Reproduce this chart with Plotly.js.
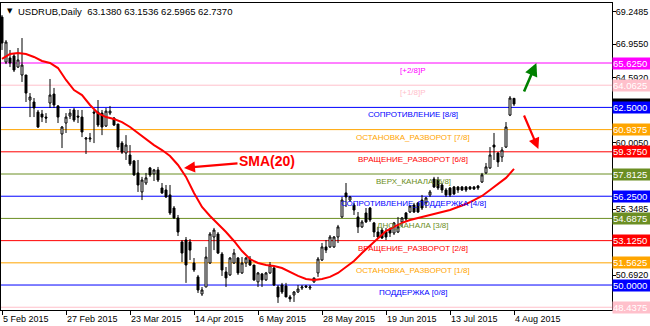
<!DOCTYPE html>
<html><head><meta charset="utf-8">
<script src="https://cdn.plot.ly/plotly-3.0.1.min.js"></script>
<style>html,body{margin:0;padding:0;background:#fff}#c{width:650px;height:326px}</style>
</head><body><div id="c"></div>
<script>
// Daily candles (bar index 0 = 5 Feb 2015)
const openP = [68.86,65.69,65.98,66.12,65.34,64.78,64.78,63.02,62.88,62.17,
62.03,61.82,62.81,63.44,62.60,60.63,61.40,61.89,62.32,61.89,
61.82,60.27,60.27,62.17,62.17,62.10,61.19,62.10,61.75,61.33,
59.99,59.29,59.15,58.73,57.89,56.55,57.18,58.24,57.82,58.10,
56.83,56.69,56.34,55.42,54.72,53.03,53.17,53.03,51.55,50.57,
49.37,49.86,51.55,53.38,53.59,52.18,50.92,50.71,51.55,51.90,
50.85,51.55,51.83,51.41,50.22,50.78,50.36,50.85,51.20,49.86,
50.00,49.93,49.16,49.30,49.51,49.79,49.93,49.79,50.22,50.85,
51.76,52.68,52.68,52.68,53.38,54.79,56.48,55.98,55.63,54.79,
54.09,55.07,55.42,54.37,53.73,53.87,53.73,53.95,53.66,53.73,
54.44,55.07,55.14,55.63,55.78,55.98,55.78,56.34,57.46,57.39,
57.04,56.69,56.83,56.90,56.90,56.90,56.90,56.90,56.90,56.97,
57.25,57.89,58.24,59.85,59.29,59.01,59.71,61.96,63.138];
const highP = [69.00,67.24,66.54,66.33,66.68,67.38,64.78,63.51,63.16,62.32,
62.32,62.10,64.50,63.87,62.67,61.19,62.10,62.39,62.46,62.32,
62.32,60.41,60.70,62.32,63.02,62.32,62.46,62.60,61.82,61.33,
60.13,60.55,59.85,58.80,58.80,57.61,57.89,58.31,58.17,58.31,
57.18,57.04,57.04,55.56,54.93,53.17,53.38,53.24,51.90,50.71,
49.86,52.68,53.73,54.02,53.73,52.32,51.27,51.97,52.54,51.97,
51.97,51.97,52.04,51.41,50.92,50.85,50.92,51.62,51.27,50.00,
50.15,50.15,49.30,49.58,50.00,50.00,50.00,50.00,50.50,51.97,
52.96,53.17,53.52,53.45,54.23,56.20,57.18,56.27,55.78,55.14,
54.58,55.42,55.49,54.44,54.09,54.02,54.02,54.02,54.44,54.79,
54.79,55.14,55.63,55.78,55.84,56.34,56.20,56.69,57.61,57.61,
57.18,56.83,56.90,56.97,56.97,56.97,56.97,56.97,56.97,57.04,
57.89,58.59,59.71,60.70,59.35,59.71,61.47,63.30,63.1536];
const lowP = [66.54,65.55,65.34,64.99,65.27,64.29,62.88,61.82,61.82,61.05,
61.47,61.40,62.46,62.46,61.40,59.64,60.70,61.68,61.47,61.40,
60.41,59.22,60.06,59.99,61.12,60.55,61.12,61.96,61.19,59.50,
59.22,58.80,58.38,57.68,56.55,55.98,57.04,57.61,57.32,57.25,
56.41,56.13,54.93,54.65,53.45,51.62,50.15,51.76,50.92,49.44,
49.23,49.86,51.48,52.46,52.18,50.64,49.86,50.64,51.48,50.71,
50.78,51.27,51.34,50.29,49.86,49.86,50.29,50.78,49.93,48.74,
49.37,49.16,48.81,48.81,49.44,49.65,49.79,49.65,50.15,50.57,
51.69,52.25,52.61,52.61,52.96,54.72,55.49,55.84,54.93,53.66,
54.02,54.37,54.44,53.38,53.31,53.24,53.17,53.38,53.52,53.66,
54.09,54.44,55.07,55.07,55.07,55.28,55.42,56.20,56.83,56.69,
56.48,56.20,56.20,56.34,56.48,56.62,56.55,56.69,56.69,56.69,
57.18,57.82,58.17,58.80,58.31,58.66,59.64,61.89,62.5965];
const closeP = [67.03,67.10,65.625,65.13,65.84,65.48,63.51,63.23,62.46,61.12,
61.82,61.75,63.37,62.67,61.82,61.12,61.82,62.10,61.61,61.82,
60.77,60.34,60.34,62.10,61.26,61.12,62.24,62.24,61.26,59.71,
59.35,59.85,58.52,57.75,57.04,57.39,57.54,57.75,58.10,57.39,
56.48,56.20,55.07,54.72,53.73,52.25,51.41,52.46,51.06,49.65,
49.65,51.97,53.59,53.87,52.25,51.06,50.50,51.90,52.25,50.85,
51.55,51.90,51.41,50.36,50.85,50.36,50.85,51.41,50.00,49.16,
49.51,49.16,49.02,49.51,49.72,49.86,49.86,49.86,50.50,51.83,
52.68,52.46,53.38,53.38,54.09,55.98,56.20,56.20,55.28,54.09,
54.44,54.44,54.58,53.73,53.38,53.31,53.38,53.66,54.37,54.09,
54.72,54.65,55.56,55.14,55.14,55.42,56.13,56.55,56.90,56.83,
56.69,56.34,56.34,56.41,56.69,56.69,56.69,56.76,56.76,56.83,
57.75,58.31,59.15,59.71,58.66,59.50,61.12,63.16,62.737];

// SMA(20) at every second bar
const smaIdx = [0,2,4,6,8,10,12,14,16,18,20,22,24,26,28,30,32,34,36,38,40,42,44,46,48,50,52,54,56,58,60,62,64,66,68,70,72,74,76,78,80,82,84,86,88,90,92,94,96,98,100,102,104,106,108,110,112,114,116,118,120,122,124,126,128];
const smaVal = [65.91,66.26,66.33,66.26,66.05,65.77,65.625,65.27,64.43,63.72,63.37,62.67,62.10,61.82,61.68,61.47,61.12,60.70,60.27,59.85,59.50,59.08,58.45,57.61,56.48,55.49,54.86,54.30,53.73,53.10,52.39,51.83,51.55,51.41,51.34,51.20,50.92,50.64,50.43,50.36,50.43,50.57,50.85,51.27,51.69,52.25,52.75,53.31,53.80,54.09,54.37,54.58,54.72,54.86,55.00,55.14,55.28,55.49,55.70,55.98,56.27,56.69,57.11,57.54,58.17];

// Murrey math levels
const levelVals = [65.625,64.0625,62.5,60.9375,59.375,57.8125,56.25,54.6875,53.125,51.5625,50.0,48.4375];
const levelNames = ['[+2/8]P','[+1/8]P','СОПРОТИВЛЕНИЕ [8/8]','ОСТАНОВКА_РАЗВОРОТ [7/8]','ВРАЩЕНИЕ_РАЗВОРОТ [6/8]','ВЕРХ_КАНАЛА [5/8]','СОПРОТИВЛЕНИЕ_ПОДДЕРЖКА [4/8]','ДНО_КАНАЛА [3/8]','ВРАЩЕНИЕ_РАЗВОРОТ [2/8]','ОСТАНОВКА_РАЗВОРОТ [1/8]','ПОДДЕРЖКА [0/8]',''];
const levelColors = ['#FF00FF','#FFC0CB','#0000FF','#FFA500','#FF0000','#6B8E23','#0000FF','#6B8E23','#FF0000','#FFA500','#0000FF','#FFC0CB'];

// Axis ticks
const priceTicks = [69.2485,66.9550,64.5920,60.0050,55.3485,50.6920];
const dateTickIdx = [0,16,32,48,64,80,96,112,128];
const dateTickText = ['5 Feb 2015','27 Feb 2015','23 Mar 2015','14 Apr 2015','6 May 2015','28 May 2015','19 Jun 2015','13 Jul 2015','4 Aug 2015'];

const titleText = 'USDRUB,Daily  ' + [openP, highP, lowP, closeP].map(a => a[a.length-1].toFixed(4)).join(' ');

const xIdx = openP.map((_, i) => i);
const FONT = 'Liberation Sans, Arial, sans-serif';

const traces = [
  {type:'candlestick', x:xIdx, open:openP, high:highP, low:lowP, close:closeP,
   increasing:{line:{color:'#000000', width:1}, fillcolor:'#FFFFFF'},
   decreasing:{line:{color:'#000000', width:1}, fillcolor:'#000000'},
   whiskerwidth:0, hoverinfo:'skip'},
  {type:'scatter', mode:'lines', x:smaIdx, y:smaVal, line:{color:'#FF0000', width:2}, hoverinfo:'skip'}
];

const shapes = levelVals.map((v, k) => ({type:'line', xref:'paper', x0:0, x1:1, yref:'y', y0:v, y1:v,
  line:{color:levelColors[k], width:1}, layer:'below'}));

const annotations = [];
levelVals.forEach((v, k) => {
  if (!levelNames[k]) return;
  annotations.push({xref:'paper', x:412/611, yref:'y', y:v, text:levelNames[k], showarrow:false,
    xanchor:'center', yanchor:'top', yshift:-1, font:{family:FONT, size:8, color:levelColors[k]}});
});
// current price box (mostly hidden)
annotations.push({xref:'paper', x:1, yref:'y', y:closeP[closeP.length-1], text:closeP[closeP.length-1].toFixed(4),
  showarrow:false, xanchor:'left', yanchor:'middle', bgcolor:'#000000', width:40, height:11, borderpad:0,
  align:'left', font:{family:FONT, size:9.5, color:'#FFFFFF'}});
levelVals.forEach((v, k) => {
  annotations.push({xref:'paper', x:1, yref:'y', y:v, text:v.toFixed(4), showarrow:false,
    xanchor:'left', yanchor:'middle', bgcolor:levelColors[k], width:40, height:11, borderpad:0,
    align:'left', font:{family:FONT, size:9.5, color:'#FFFFFF'}});
});
annotations.push({xref:'paper', yref:'paper', x:0, y:1, xanchor:'left', yanchor:'top', xshift:4, yshift:-2,
  text:'▼', showarrow:false, font:{family:'DejaVu Sans', size:7, color:'#000'}});
annotations.push({xref:'paper', yref:'paper', x:0, y:1, xanchor:'left', yanchor:'top', xshift:15, yshift:-1,
  text:titleText, showarrow:false, font:{family:FONT, size:9.5, color:'#000'}});
annotations.push({x:45.5, y:58.24, xref:'x', yref:'y', text:'<b>SMA(20)</b>', showarrow:true,
  ax:83, ay:-7, arrowhead:2, arrowsize:1, arrowwidth:2.2, arrowcolor:'#FF0000', standoff:0,
  font:{family:FONT, size:14, color:'#FF0000'}});
annotations.push({x:133.6, y:65.63, xref:'x', yref:'y', text:'', showarrow:true, ax:-13, ay:30,
  arrowhead:2, arrowsize:1, arrowwidth:2.6, arrowcolor:'#008000'});
annotations.push({x:134.1, y:59.57, xref:'x', yref:'y', text:'', showarrow:true, ax:-15, ay:-35,
  arrowhead:2, arrowsize:1, arrowwidth:2.2, arrowcolor:'#FF0000'});

const layout = {
  width:650, height:326, margin:{l:1, r:38, t:3, b:16},
  paper_bgcolor:'#FFFFFF', plot_bgcolor:'#FFFFFF', showlegend:false, hovermode:false,
  xaxis:{range:[-0.25,152.5], showgrid:false, zeroline:false, showline:true, mirror:true, linecolor:'#000', linewidth:1,
    tickmode:'array', tickvals:dateTickIdx, ticktext:dateTickText, ticks:'outside', ticklen:4, tickcolor:'#000',
    ticklabelposition:'outside right', tickfont:{family:FONT, size:9, color:'#000'}, rangeslider:{visible:false}, fixedrange:true},
  yaxis:{range:[48.243,69.847], side:'right', showgrid:false, zeroline:false, showline:true, mirror:true, linecolor:'#000', linewidth:1,
    tickmode:'array', tickvals:priceTicks, ticktext:priceTicks.map(v => v.toFixed(4)), ticks:'outside', ticklen:3, tickcolor:'#000',
    ticklabelstandoff:-2, tickfont:{family:FONT, size:9, color:'#000'}, fixedrange:true},
  shapes:shapes, annotations:annotations
};

Plotly.newPlot('c', traces, layout, {staticPlot:true, displayModeBar:false});
</script>
</body></html>
